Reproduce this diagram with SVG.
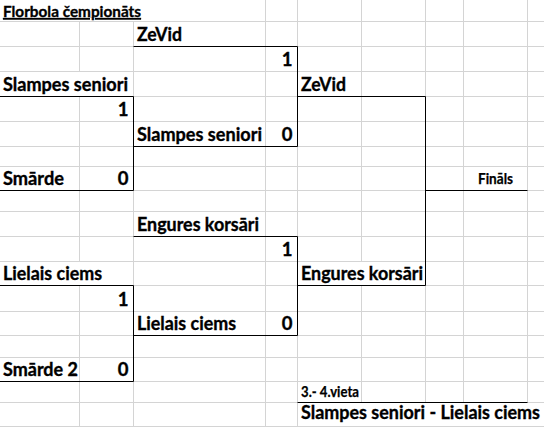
<svg xmlns="http://www.w3.org/2000/svg" width="544" height="427" viewBox="0 0 544 427">
<style>
.g{stroke:#d4d4d4;stroke-width:1;fill:none}
.b{stroke:#000;stroke-width:1;fill:none}
text{font-family:Lato,"Liberation Sans",sans-serif;font-weight:bold;fill:#000;stroke:#000;stroke-width:0.35}
.t{font-size:18.5px}
.s{font-size:14.5px;stroke-width:0.25}
.n{font-size:18.5px;text-anchor:end}
</style>
<rect x="0" y="0" width="544" height="427" fill="#fff"/>
<g id="grid" class="g">
<path d="M0 21.5H544M0 46.5H544M0 71.5H544M0 96.5H544M0 121.5H544M0 146.5H544M0 166.5H544M0 190.5H544M0 211.5H544M0 236.5H544M0 261.5H544M0 285.5H544M0 311.5H544M0 335.5H544M0 357.5H544M0 381.5H544M0 402.5H544M0 426.5H544"/>
<path d="M79.5 21.5V71.5M79.5 96.5V261.5M79.5 285.5V427"/>
<path d="M133.5 21.5V427"/>
<path d="M265.5 0V427M297.5 0V427"/>
<path d="M361.5 0V261.5M361.5 285.5V402.5"/>
<path d="M425.5 0V402.5M463.5 0V402.5M527.5 0V402.5"/>
</g>
<g id="connectors" class="b">
<path d="M133.5 46.5H297.5V146.5H133.5"/>
<path d="M0 96.5H133.5V190.5H0"/>
<path d="M297.5 96.5H425.5V285.5H297.5"/>
<path d="M425.5 190.5H527.5"/>
<path d="M133.5 236.5H297.5V335.5H133.5"/>
<path d="M0 285.5H133.5V381.5H0"/>
<path d="M297.5 402.5H527.5"/>
</g>
<g id="title"><text x="3" y="17" font-size="16" stroke-width="0.3" text-decoration="underline" textLength="138" lengthAdjust="spacingAndGlyphs">Florbola čempionāts</text></g>
<g id="r1-zevid"><text class="t" x="137" y="40.5" textLength="45" lengthAdjust="spacingAndGlyphs">ZeVid</text><text class="n" x="292.5" y="65.5">1</text></g>
<g id="r1-slampes"><text class="t" x="137" y="140.5" textLength="125" lengthAdjust="spacingAndGlyphs">Slampes seniori</text><text class="n" x="292.5" y="140.5">0</text></g>
<g id="q-slampes"><text class="t" x="3" y="90.5" textLength="125" lengthAdjust="spacingAndGlyphs">Slampes seniori</text><text class="n" x="128.5" y="115.5">1</text></g>
<g id="q-smarde"><text class="t" x="3" y="184.5" textLength="61" lengthAdjust="spacingAndGlyphs">Smārde</text><text class="n" x="128.5" y="184.5">0</text></g>
<g id="s-zevid"><text class="t" x="301" y="90.5" textLength="45" lengthAdjust="spacingAndGlyphs">ZeVid</text></g>
<g id="final"><text class="s" x="478" y="183.5" textLength="35" lengthAdjust="spacingAndGlyphs">Fināls</text></g>
<g id="r1-engures"><text class="t" x="137" y="230.5" textLength="122" lengthAdjust="spacingAndGlyphs">Engures korsāri</text><text class="n" x="292.5" y="255.5">1</text></g>
<g id="r1-lielais"><text class="t" x="137" y="329.5" textLength="99" lengthAdjust="spacingAndGlyphs">Lielais ciems</text><text class="n" x="292.5" y="329.5">0</text></g>
<g id="s-engures"><text class="t" x="301" y="279.5" textLength="122" lengthAdjust="spacingAndGlyphs">Engures korsāri</text></g>
<g id="q-lielais"><text class="t" x="3" y="279.5" textLength="99" lengthAdjust="spacingAndGlyphs">Lielais ciems</text><text class="n" x="128.5" y="305.5">1</text></g>
<g id="q-smarde2"><text class="t" x="3" y="375.5" textLength="75" lengthAdjust="spacingAndGlyphs">Smārde 2</text><text class="n" x="128.5" y="375.5">0</text></g>
<g id="third"><text class="s" x="301" y="397" textLength="58" lengthAdjust="spacingAndGlyphs">3.- 4.vieta</text><text class="t" x="301" y="419" font-size="18" textLength="239" lengthAdjust="spacingAndGlyphs">Slampes seniori - Lielais ciems</text></g>
</svg>
